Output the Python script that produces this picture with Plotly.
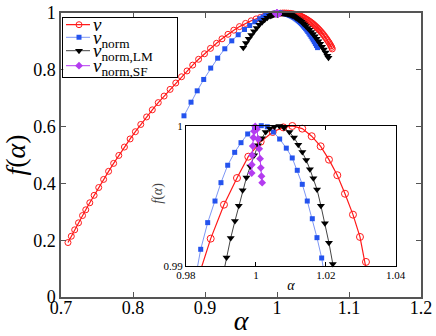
import plotly.graph_objects as go

# f(alpha) spectra
v_alpha = [0.7097, 0.7143, 0.7190, 0.7243, 0.7299, 0.7344, 0.7400, 0.7460, 0.7524, 0.7592,
           0.7661, 0.7731, 0.7803, 0.7881, 0.7960, 0.8033, 0.8108, 0.8189, 0.8268, 0.8351,
           0.8432, 0.8515, 0.8594, 0.8674, 0.8750, 0.8829, 0.8911, 0.8993, 0.9076, 0.9160,
           0.9236, 0.9319, 0.9400, 0.9479, 0.9563, 0.9642, 0.9710, 0.9770, 0.9825, 0.98707,
           0.99087, 0.99459, 0.99782, 1.00137, 1.00481, 1.00784, 1.01042, 1.01327, 1.01596, 1.01853,
           1.02091, 1.02329, 1.02549, 1.02778, 1.02978, 1.03150, 1.0330, 1.0345, 1.0360, 1.0375,
           1.0390, 1.0405, 1.0420, 1.0435, 1.0450, 1.0465, 1.0480, 1.0495, 1.0510, 1.0525,
           1.0540, 1.0555, 1.0570, 1.0585, 1.0600, 1.0615, 1.0630, 1.0645, 1.0660, 1.0675,
           1.0690, 1.0705, 1.0720, 1.0735, 1.0750, 1.0760, 1.0768]
v_f = [0.1917, 0.2140, 0.2365, 0.2612, 0.2868, 0.3070, 0.3318, 0.3580, 0.3855, 0.4140,
       0.4425, 0.4705, 0.4985, 0.5280, 0.5565, 0.5820, 0.6075, 0.6340, 0.6590, 0.6845,
       0.7075, 0.7310, 0.7535, 0.7755, 0.7960, 0.8165, 0.8370, 0.8565, 0.8755, 0.8935,
       0.9090, 0.9250, 0.9395, 0.9521, 0.9633, 0.9725, 0.9792, 0.9843, 0.9884, 0.99195,
       0.99437, 0.99627, 0.99779, 0.99886, 0.99955, 0.99988, 0.99998, 0.99979, 0.99925, 0.99853,
       0.99758, 0.99647, 0.99515, 0.99366, 0.99207, 0.99029, 0.9886, 0.9868, 0.9849, 0.9829,
       0.9808, 0.9786, 0.9762, 0.9737, 0.9711, 0.9684, 0.9655, 0.9625, 0.9593, 0.9560,
       0.9525, 0.9489, 0.9451, 0.9411, 0.9370, 0.9327, 0.9282, 0.9235, 0.9186, 0.9135,
       0.9082, 0.9027, 0.8970, 0.8908, 0.8843, 0.8790, 0.8735]

vn_alpha = [0.8708, 0.8806, 0.8892, 0.8982, 0.9079, 0.9176, 0.9275, 0.9372, 0.9461, 0.9549,
            0.9621, 0.9692, 0.9760, 0.9805, 0.98421, 0.98621, 0.98830, 0.99001, 0.99193, 0.99393,
            0.99574, 0.99765, 0.99966, 1.00154, 1.00326, 1.00500, 1.00680, 1.00870, 1.01040, 1.01184,
            1.01327, 1.01470, 1.01614, 1.01748, 1.01882, 1.0203, 1.0218, 1.0233, 1.0248, 1.0263,
            1.0278, 1.0293, 1.0308, 1.0323, 1.0338, 1.0353, 1.0368, 1.0383, 1.0398, 1.0413,
            1.0428, 1.0443, 1.0458, 1.0473, 1.0488, 1.0503, 1.0518, 1.0533, 1.0548, 1.0563]
vn_f = [0.6380, 0.6860, 0.7260, 0.7660, 0.8060, 0.8410, 0.8740, 0.9020, 0.9235, 0.9420,
        0.9560, 0.9690, 0.9800, 0.9862, 0.99119, 0.99309, 0.99463, 0.99594, 0.99718, 0.99810,
        0.99879, 0.99941, 0.99989, 1.00000, 0.99992, 0.99955, 0.99905, 0.99840, 0.99770, 0.99682,
        0.99582, 0.99463, 0.99337, 0.99202, 0.99057, 0.9888, 0.9868, 0.9845, 0.9820, 0.9793,
        0.9764, 0.9733, 0.9699, 0.9663, 0.9625, 0.9584, 0.9541, 0.9496, 0.9449, 0.9400,
        0.9348, 0.9294, 0.9238, 0.9179, 0.9118, 0.9055, 0.8990, 0.8922, 0.8853, 0.8781]

lm_alpha = [0.9532, 0.9569, 0.9607, 0.9643, 0.9681, 0.9718, 0.9754, 0.9792, 0.9829, 0.9865,
            0.9903, 0.9916, 0.9928, 0.9940, 0.9951, 0.9962, 0.9973, 0.9984, 0.9995, 1.0006,
            1.0017, 1.0028, 1.0040, 1.0053, 1.0067, 1.00804, 1.00960, 1.01090, 1.01213, 1.01330,
            1.01440, 1.01545, 1.01645, 1.01750, 1.01860, 1.01975, 1.02090, 1.02200, 1.0240, 1.0260,
            1.0280, 1.0300, 1.0320, 1.0340, 1.0360, 1.0380, 1.0400, 1.0425, 1.0450, 1.0475,
            1.0500, 1.0525, 1.0550, 1.0575, 1.0600, 1.0625, 1.0650, 1.0675, 1.0700, 1.0715]
lm_f = [0.8775, 0.8940, 0.9090, 0.9228, 0.9360, 0.9475, 0.9583, 0.9675, 0.9760, 0.9833,
        0.9890, 0.9906, 0.9920, 0.9932, 0.9943, 0.9954, 0.9963, 0.9971, 0.9979, 0.9986,
        0.9991, 0.99955, 0.99980, 0.99993, 0.99998, 0.99985, 0.99955, 0.99915, 0.99865, 0.99812,
        0.99755, 0.99690, 0.99625, 0.99545, 0.99430, 0.99305, 0.99165, 0.99015, 0.9874, 0.9843,
        0.9809, 0.9772, 0.9732, 0.9689, 0.9643, 0.9594, 0.9543, 0.9476, 0.9406, 0.9333,
        0.9257, 0.9177, 0.9093, 0.9005, 0.8913, 0.8816, 0.8714, 0.8606, 0.8493, 0.8422]

sf_alpha = [0.99880, 0.99883, 0.99893, 0.99910, 0.99928, 0.99950, 0.99980,
            1.00030, 1.00065, 1.00095, 1.00120, 1.00140, 1.00160, 1.00180]
sf_f = [0.99662, 0.99722, 0.99790, 0.99855, 0.99915, 0.99960, 0.99995,
        0.99975, 0.99905, 0.99835, 0.99765, 0.99700, 0.99640, 0.99594]

x_ticks = [0.7, 0.8, 0.9, 1.0, 1.1, 1.2]
x_labels = ["0.7", "0.8", "0.9", "1", "1.1", "1.2"]
y_ticks = [0, 0.2, 0.4, 0.6, 0.8, 1.0]
y_labels = ["0", "0.2", "0.4", "0.6", "0.8", "1"]
inset_x_ticks = [0.98, 1.0, 1.02, 1.04]
inset_x_labels = ["0.98", "1", "1.02", "1.04"]
inset_y_ticks = [0.99, 1.0]
inset_y_labels = ["0.99", "1"]

legend_labels = ["<i>v</i>", "<i>v</i><sub>norm</sub>",
                 "<i>v</i><sub>norm,LM</sub>", "<i>v</i><sub>norm,SF</sub>"]

RED = "#ff1a1a"
BLUE = "#2453ee"
BLUE_LINE = "#7d96f4"
BLACK = "#000000"
PURPLE = "#b43cf0"
FONT = "Liberation Serif, Tinos, Times New Roman, DejaVu Serif, serif"

styles = [
    (dict(symbol="circle-open", size=6, color=RED, line=dict(width=1, color=RED)),
     dict(color=RED, width=1.2)),
    (dict(symbol="square", size=5, color=BLUE), dict(color=BLUE_LINE, width=1)),
    (dict(symbol="triangle-down", size=7, color=BLACK), dict(color="#444444", width=1)),
    (dict(symbol="diamond", size=6, color=PURPLE), dict(color=PURPLE, width=1)),
]
data = [(v_alpha, v_f), (vn_alpha, vn_f), (lm_alpha, lm_f), (sf_alpha, sf_f)]

fig = go.Figure()
# main panel
for (xs, ys), (marker, line) in zip(data, styles):
    fig.add_trace(go.Scatter(x=xs, y=ys, mode="lines+markers", marker=marker, line=line,
                             cliponaxis=False, xaxis="x", yaxis="y"))
# zoomed inset, same data
for (xs, ys), (marker, line) in zip(data, styles):
    m = dict(marker)
    if m["symbol"] == "circle-open":
        m["size"] = 7
    fig.add_trace(go.Scatter(x=xs, y=ys, mode="lines+markers", marker=m, line=line,
                             cliponaxis=False, xaxis="x2", yaxis="y2"))

# legend drawn in its own small box (pixel-like coordinates inside the box)
row_y = [24.7, 37.3, 50.7, 65.7]
text_shift = [0, 1.5, 1.5, 1.5]
for (marker, line), y, dy, label in zip(styles, row_y, text_shift, legend_labels):
    fig.add_trace(go.Scatter(x=[66, 90], y=[y, y], mode="lines", line=line,
                             xaxis="x3", yaxis="y3", hoverinfo="skip"))
    fig.add_trace(go.Scatter(x=[79], y=[y], mode="markers", marker=marker,
                             xaxis="x3", yaxis="y3", hoverinfo="skip"))
    fig.add_annotation(x=91, y=y + dy, xref="x3", yref="y3", text=label, showarrow=False,
                       xanchor="left", yanchor="middle", font=dict(size=19, family=FONT))

# inset y title sits closer to the frame than plotly's title placement allows
fig.add_annotation(x=-0.18, y=0.517, xref="x2 domain", yref="y2 domain",
                   text="<i>f</i>(<i>α</i>)", textangle=-90, showarrow=False,
                   font=dict(size=14, family=FONT, color="#444444"))

axis_common = dict(showline=True, mirror="ticks", ticks="inside", showgrid=False,
                   zeroline=False, automargin=False)

fig.update_layout(
    template="none",
    width=436, height=336,
    margin=dict(l=61, r=15, t=13, b=39, autoexpand=False),
    paper_bgcolor="white", plot_bgcolor="white",
    font=dict(family=FONT, color="black"),
    showlegend=False,
    xaxis=dict(**axis_common, range=[0.7, 1.2], tickvals=x_ticks, ticktext=x_labels,
               linecolor="#555555", linewidth=1.5, tickcolor="#555555", ticklen=5,
               tickfont=dict(size=18, family=FONT), ticklabelstandoff=-6,
               title=dict(text="<i>α</i>", font=dict(size=28, family=FONT), standoff=14)),
    yaxis=dict(**axis_common, range=[0, 1], tickvals=y_ticks, ticktext=y_labels,
               linecolor="#555555", linewidth=1.5, tickcolor="#555555", ticklen=5,
               tickfont=dict(size=18, family=FONT),
               title=dict(text="<i>f</i>(<i>α</i>)", font=dict(size=28, family=FONT), standoff=2)),
    xaxis2=dict(**axis_common, domain=[0.3472, 0.9297], anchor="y2", range=[0.98, 1.04],
                tickvals=inset_x_ticks, ticktext=inset_x_labels,
                linecolor="black", linewidth=1, tickcolor="black", ticklen=4,
                tickfont=dict(size=11, family=FONT), ticklabelstandoff=-1,
                title=dict(text="<i>α</i>", font=dict(size=14, family=FONT), standoff=0)),
    yaxis2=dict(**axis_common, domain=[0.1092, 0.6032], anchor="x2", range=[0.99, 1.0],
                tickvals=inset_y_ticks, ticktext=inset_y_labels,
                linecolor="black", linewidth=1, tickcolor="black", ticklen=4,
                tickfont=dict(size=11, family=FONT)),
    xaxis3=dict(domain=[0.0064, 0.3231], anchor="y3", range=[63.3, 177.3], automargin=False,
                showline=True, mirror=True, linecolor="black", linewidth=1,
                showticklabels=False, ticks="", showgrid=False, zeroline=False, fixedrange=True),
    yaxis3=dict(domain=[0.7757, 0.9824], anchor="x3", range=[76.7, 18], automargin=False,
                showline=True, mirror=True, linecolor="black", linewidth=1,
                showticklabels=False, ticks="", showgrid=False, zeroline=False, fixedrange=True),
)

# drop the browser's default body margin so the figure sits at the page corner
fig.write_html("out.html", config={"displayModeBar": False},
               post_script="document.body.style.margin = '0px';")
